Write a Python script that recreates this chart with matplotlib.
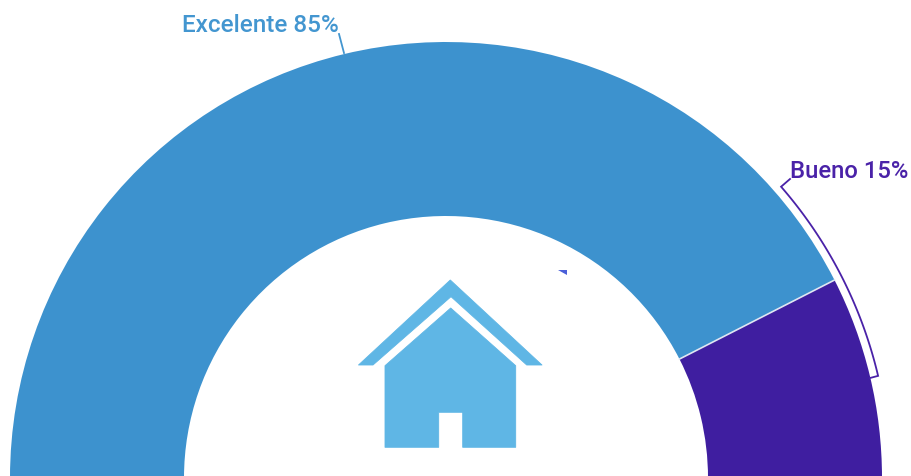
import matplotlib
matplotlib.use('Agg')
import matplotlib.pyplot as plt
import numpy as np
from matplotlib.patches import Polygon

labels = ['Excelente', 'Bueno']
shares = [85, 15]
colors = ['#3D92CE', '#3F1EA0']
text_colors = ['#4396D0', '#4A22A8']

house_color = '#5FB6E5'
cx, cy = 446, -2
r_out, r_in = 436, 262


def polar(angle, r):
    a = np.radians(angle)
    return cx + r * np.cos(a), cy + r * np.sin(a)


plt.rcParams['font.family'] = ['Roboto', 'DejaVu Sans']
fig = plt.figure(figsize=(9.12, 4.76), dpi=100)
ax = fig.add_axes([0, 0, 1, 1])

# half donut, the bottom half of the pie stays invisible
ax.pie(shares + [sum(shares)], colors=colors + ['none'], startangle=180, counterclock=False,
       center=(cx, cy), radius=r_out, wedgeprops={'width': r_out - r_in, 'linewidth': 0})
ax.set_xlim(0, 912)
ax.set_ylim(0, 476)
ax.set_aspect('auto')

# thin light line between the two slices
split = 180 * shares[1] / sum(shares)
sx, sy = polar(split, np.array([r_in, r_out]))
ax.plot(sx, sy, color='#dfe6f2', lw=1.2)

# leader of the big slice
ax.plot([339, 344], [476 - 34, 476 - 53], color=text_colors[0], lw=1.3)
ax.text(182, 476 - 26, '%s %d%%' % (labels[0], shares[0]), color=text_colors[0], fontsize=17.5,
        fontweight='medium', ha='left', va='center')

# bracket next to the small slice
arc = np.linspace(13.3, 41, 60)
bx, by = polar(arc, 444)
bx = np.concatenate([[870], bx, [790]])
by = np.concatenate([[476 - 378], by, [476 - 179]])
ax.plot(bx, by, color=text_colors[1], lw=1.3, solid_joinstyle='miter')
ax.text(790, 476 - 171, '%s %d%%' % (labels[1], shares[1]), color=text_colors[1], fontsize=17.2,
        fontweight='medium', ha='left', va='center')

# house icon
roof = [(450.3, 280), (358.5, 365), (373, 365), (451, 296.7), (526.7, 365), (542, 365)]
body = [(450.7, 308), (385, 365.7), (385, 447.3), (438.7, 447.3), (438.7, 412.3), (462.7, 412.3),
        (462.7, 447.3), (515.7, 447.3), (515.7, 365.7)]
for pts in (roof, body):
    ax.add_patch(Polygon([(x, 476 - y) for x, y in pts], closed=True, fc=house_color, ec=house_color,
                         lw=0.6, joinstyle='round'))

# small stray mark above the house
ax.add_patch(Polygon([(558.3, 476 - 270), (566.7, 476 - 270), (566.7, 476 - 275)], closed=True,
                     fc='#4A5FD8', ec='none'))

fig.savefig('out.png', dpi=100)
